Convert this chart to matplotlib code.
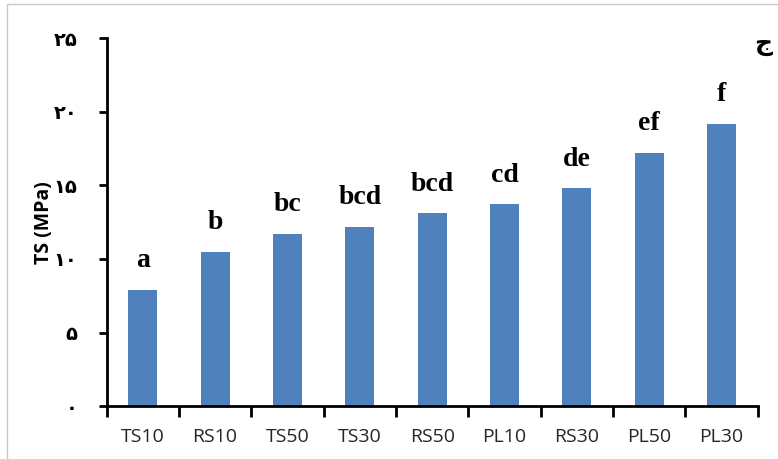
import matplotlib
matplotlib.use('Agg')
import matplotlib.pyplot as plt
from matplotlib.patches import Rectangle

samples = ['TS10', 'RS10', 'TS50', 'TS30', 'RS50', 'PL10', 'RS30', 'PL50', 'PL30']
ts_mpa = [7.9, 10.5, 11.7, 12.2, 13.1, 13.7, 14.8, 17.2, 19.2]
groups = ['a', 'b', 'bc', 'bcd', 'bcd', 'cd', 'de', 'ef', 'f']
yticks = [0, 5, 10, 15, 20, 25]
ytick_labels = ['۰', '۵', '۱۰', '۱۵', '۲۰', '۲۵']

fig = plt.figure(figsize=(7.78, 4.59), dpi=100)
ax = fig.add_axes([0.137, 0.115, 0.837, 0.802])

x = range(len(samples))
ax.bar(x, ts_mpa, width=0.4, color='#4f81bd')

# significance letters above each bar
for i, v in enumerate(ts_mpa):
    ax.annotate(groups[i], (i, v), xytext=(0, 12), textcoords='offset points',
                ha='center', va='bottom', fontsize=20, fontweight='bold',
                family=['Liberation Serif', 'DejaVu Serif'])

ax.set_xlim(-0.5, len(samples) - 0.5)
ax.set_ylim(0, 25)

# category ticks sit between the bars
ax.set_xticks([i - 0.5 for i in range(len(samples) + 1)])
ax.set_xticklabels([])
ax.set_xticks(list(x), minor=True)
ax.set_xticklabels(samples, minor=True, fontsize=14, color='#262626', family='Open Sans')
ax.tick_params(axis='x', which='major', direction='out', length=8, width=2)
ax.tick_params(axis='x', which='minor', length=0, pad=16)

ax.set_yticks(yticks)
ax.set_yticklabels(ytick_labels, fontsize=14, fontweight='bold',
                   family=['DejaVu Sans'])
ax.tick_params(axis='y', direction='out', length=6, width=2, pad=15)

for side in ['top', 'right']:
    ax.spines[side].set_visible(False)
for side in ['left', 'bottom']:
    ax.spines[side].set_linewidth(2)

ax.set_ylabel('TS (MPa)', fontsize=14, fontweight='bold', family='Open Sans', labelpad=0)

fig.text(0.993, 0.905, 'ج', fontsize=18, fontweight='bold', ha='right', va='center',
         family=['DejaVu Sans'])

# thin grey frame around the chart area
fig.patches.append(Rectangle((7 / 778, -0.1), 1.2, 1.1 - 4 / 459, transform=fig.transFigure,
                             fill=False, edgecolor='#c8c8c8', linewidth=1))

plt.savefig('out.png', dpi=100)
